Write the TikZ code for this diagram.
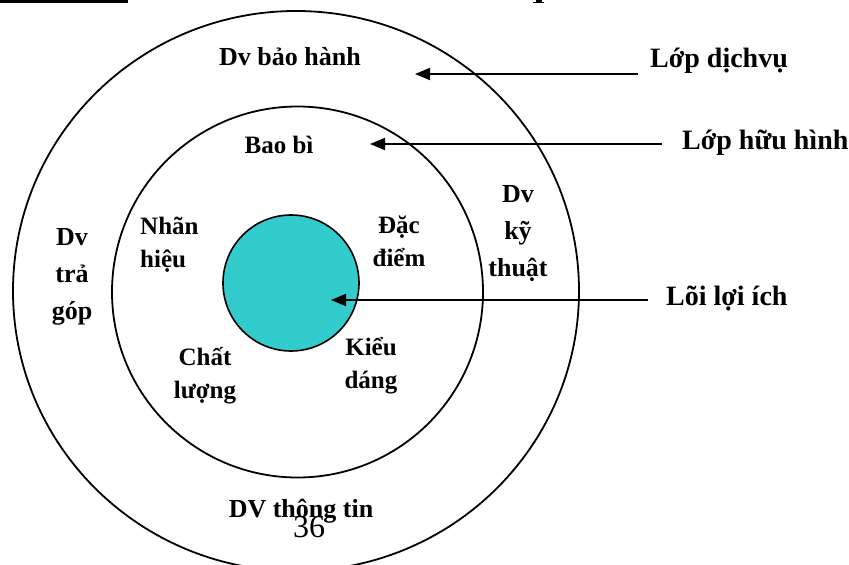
\documentclass[tikz,border=0pt]{standalone}
\usepackage{fontspec}
\setmainfont{Liberation Serif}
\usetikzlibrary{arrows.meta}
\definecolor{coreteal}{RGB}{51,204,204}
\newcommand{\mystack}[2][c]{\begin{tabular}[t]{@{}#1@{}}#2\end{tabular}}
\begin{document}
\begin{tikzpicture}[x=1pt,y=-1pt,
  ring/.style={draw=black,line width=1.8pt},
  ttout/.style={font=\fontsize{26}{37}\selectfont\bfseries,inner sep=0pt,anchor=base},
  ttin/.style={font=\fontsize{25}{33.5}\selectfont\bfseries,inner sep=0pt,anchor=base},
  lab/.style={font=\fontsize{28}{34}\selectfont\bfseries,inner sep=0pt,anchor=base west},
  arr/.style={line width=1.8pt,-{Triangle[length=15pt,width=12pt]}}]
\useasboundingbox (0,0) rectangle (849,565);
\fill[white] (0,0) rectangle (849,565);
% top remnants
\fill[black] (0,0) rectangle (128,2.5);
\fill[black] (535.5,0) rectangle (542,2);
\fill[black] (533,2) rectangle (544,3);
% rings
\draw[ring] (296,291) ellipse [x radius=283, y radius=280];
\draw[ring] (297.5,292) circle [radius=185.5];
\draw[line width=1.6pt,fill=coreteal] (291,283) circle [radius=68];
% arrows
\coordinate (t1) at (638,74);  \coordinate (h1) at (415,74);
\coordinate (t2) at (662,144); \coordinate (h2) at (370,144);
\coordinate (t3) at (648,300); \coordinate (h3) at (331,300);
\draw[arr] (t1) -- (h1);
\draw[arr] (t2) -- (h2);
\draw[arr] (t3) -- (h3);
% labels
\node[lab] (l1) at (650,67) {Lớp dịchvụ};
\node[lab] (l2) at (682,149) {Lớp hữu hình};
\node[lab] (l3) at (666,305) {Lõi lợi ích};
% texts in rings
\node[ttout] (bh) at (290,65) {Dv bảo hành};
\node[ttin] (bb) at (279,153) {Bao bì};
\node[ttout] (tg) at (72,245) {\mystack{Dv\\trả\\góp}};
\node[ttin,anchor=base west] (nh) at (140,234) {\mystack[l]{Nhãn\\hiệu}};
\node[ttin] (dd) at (399,233) {\mystack{Đặc\\điểm}};
\node[ttout] (kt) at (518,202) {\mystack{Dv\\kỹ\\thuật}};
\node[ttin] (cl) at (205,365) {\mystack{Chất\\lượng}};
\node[ttin] (kd) at (371,355) {\mystack{Kiểu\\dáng}};
\node[ttout] (tt) at (301,517) {DV thông tin};
\node[font=\fontsize{32}{36}\selectfont,inner sep=0pt,anchor=base] (pg) at (309,537) {36};
\end{tikzpicture}
\end{document}
